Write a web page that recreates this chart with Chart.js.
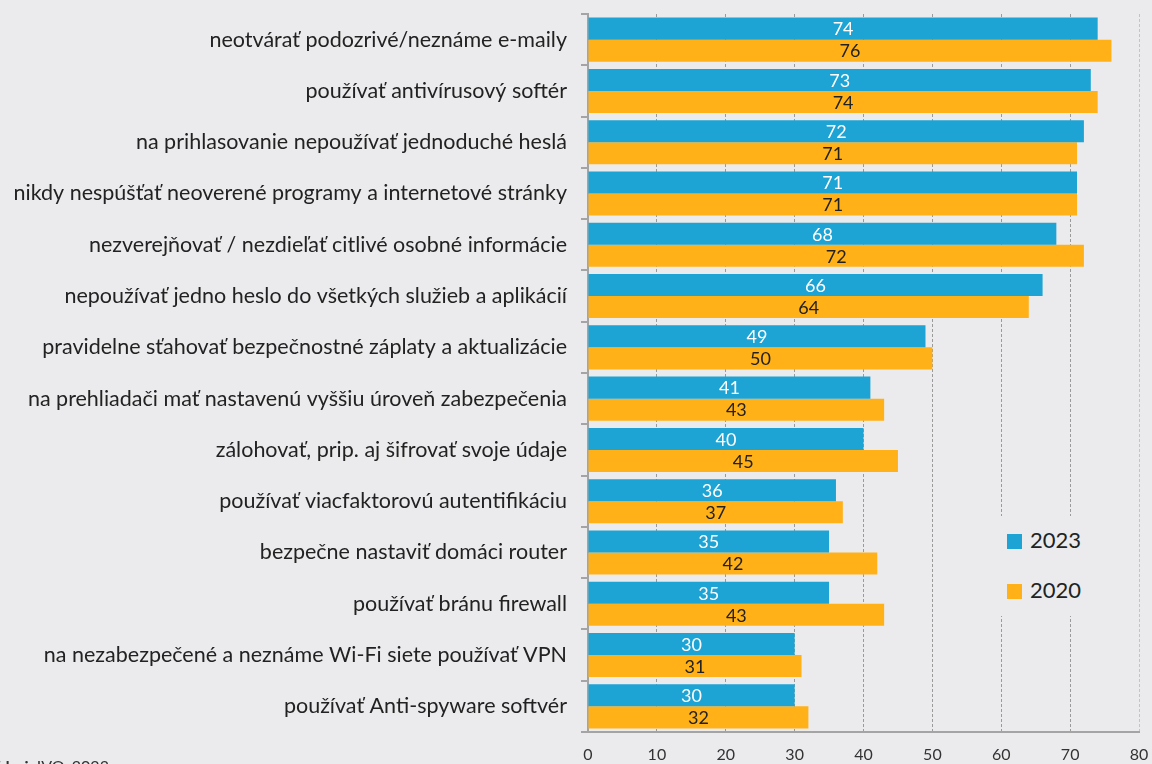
<!DOCTYPE html>
<html lang="sk">
<head>
<meta charset="utf-8">
<script src="https://cdn.jsdelivr.net/npm/chart.js@4/dist/chart.umd.min.js"></script>
<style>
  html, body { margin: 0; padding: 0; background: #ebebed; overflow: hidden; }
  #wrap { position: relative; width: 1152px; height: 764px; }
  #legenda {
    position: absolute; left: 996px; top: 516px; width: 104px; height: 100px;
    background: #ebebed; font-family: Lato, "Open Sans", sans-serif; font-size: 22px; color: #222;
  }
  #legenda div { position: absolute; left: 11px; height: 26px; line-height: 26px; }
  #legenda span { display: inline-block; width: 15px; height: 15px; margin-right: 8px; vertical-align: -1px; }
  #zdroj { position: absolute; left: -9px; top: 756px; font-family: Lato, sans-serif; font-size: 16px; color: #333; white-space: nowrap; }
</style>
</head>
<body>
<div id="wrap">
  <canvas id="graf" width="1152" height="764"></canvas>
  <div id="legenda">
    <div style="top:11px"><span style="background:#1da3d4"></span>2023</div>
    <div style="top:61px"><span style="background:#ffb117"></span>2020</div>
  </div>
  <div id="zdroj"><b>Zdroj:</b> IVO, 2023</div>
</div>
<script>
// kategórie (opatrenia)
const kategorie = [
  "neotvárať podozrivé/neznáme e-maily",
  "používať antivírusový softér",
  "na prihlasovanie nepoužívať jednoduché heslá",
  "nikdy nespúšťať neoverené programy a internetové stránky",
  "nezverejňovať / nezdieľať citlivé osobné informácie",
  "nepoužívať jedno heslo do všetkých služieb a aplikácií",
  "pravidelne sťahovať bezpečnostné záplaty a aktualizácie",
  "na prehliadači mať nastavenú vyššiu úroveň zabezpečenia",
  "zálohovať, prip. aj šifrovať svoje údaje",
  "používať viacfaktorovú autentifikáciu",
  "bezpečne nastaviť domáci router",
  "používať bránu firewall",
  "na nezabezpečené a neznáme Wi-Fi siete používať VPN",
  "používať Anti-spyware softvér"
];
const hodnoty2023 = [74, 73, 72, 71, 68, 66, 49, 41, 40, 36, 35, 35, 30, 30];
const hodnoty2020 = [76, 74, 71, 71, 72, 64, 50, 43, 45, 37, 42, 43, 31, 32];
const osX = [0, 10, 20, 30, 40, 50, 60, 70, 80];

const pismo = "Lato, 'Open Sans', sans-serif";

// popisky hodnôt v strede stĺpcov
const popisky = {
  id: "popisky",
  afterDatasetsDraw(chart) {
    const ctx = chart.ctx;
    ctx.save();
    ctx.font = "18px " + pismo;
    ctx.textAlign = "center";
    ctx.textBaseline = "middle";
    chart.data.datasets.forEach(function (ds, i) {
      ctx.fillStyle = i === 0 ? "#ffffff" : "#222222";
      chart.getDatasetMeta(i).data.forEach(function (bar, j) {
        const x = (bar.base + bar.x) / 2;
        ctx.fillText(ds.data[j], x, bar.y + 1);
      });
    });
    ctx.restore();
  }
};

const graf = new Chart(document.getElementById("graf").getContext("2d"), {
  type: "bar",
  data: {
    labels: kategorie,
    datasets: [
      { label: "2023", data: hodnoty2023, backgroundColor: "#1da3d4", borderWidth: 0 },
      { label: "2020", data: hodnoty2020, backgroundColor: "#ffb117", borderWidth: 0 }
    ]
  },
  options: {
    indexAxis: "y",
    responsive: false,
    animation: false,
    barPercentage: 1.0,
    categoryPercentage: 0.86,
    layout: { padding: { top: 14, right: 13, left: 0, bottom: 0 } },
    plugins: { legend: { display: false }, tooltip: { enabled: false } },
    scales: {
      x: {
        min: 0, max: 80,
        afterBuildTicks(scale) { scale.ticks = osX.map(v => ({ value: v })); },
        afterFit(scale) {
          scale.height = 32;
          scale.paddingLeft = 0;
          scale.paddingRight = 0;
        },
        grid: {
          drawTicks: false,
          color: ctx => ctx.index === 0 ? "rgba(0,0,0,0)" : (ctx.tick && ctx.tick.value === 80 ? "#c4c4c4" : "#9a9a9a"),
          lineWidth: 1
        },
        border: { color: "#a4a4a4", width: 2, dash: [3, 2] },
        ticks: { padding: 13, color: "#333", font: { family: pismo, size: 16 } }
      },
      y: {
        afterFit(scale) {
          scale.width = 588;
          scale.paddingTop = 0;
          scale.paddingBottom = 0;
        },
        grid: { drawOnChartArea: false, offset: true, tickLength: 7, color: "#a4a4a4", lineWidth: 2 },
        border: { color: "#a4a4a4", width: 2 },
        ticks: { padding: 14, color: "#222", font: { family: pismo, size: 21.5 } }
      }
    }
  },
  plugins: [popisky]
});
</script>
</body>
</html>
